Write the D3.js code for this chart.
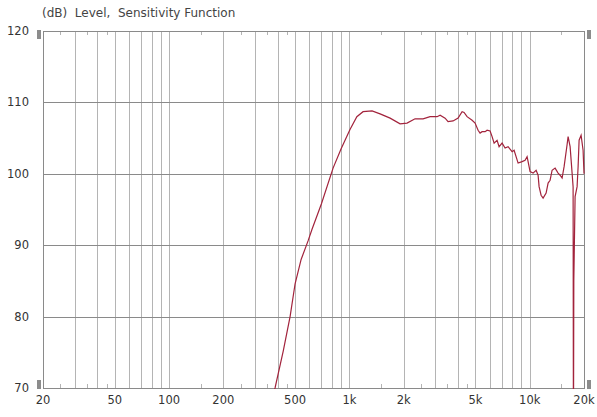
<!DOCTYPE html>
<html>
<head>
<meta charset="utf-8">
<title>Level, Sensitivity Function</title>
<style>
  body { margin: 0; background: #fff; }
  svg { display: block; }
</style>
</head>
<body>
<svg id="chart" width="597" height="417"></svg>
<script src="https://cdn.jsdelivr.net/npm/d3@7/dist/d3.min.js"></script>
<script>
var freq = [360, 387, 430, 469, 500, 540, 590, 620, 700, 812, 900, 1008, 1100, 1191, 1336,
  1480, 1682, 1910, 2088, 2313, 2563, 2802, 3064, 3184, 3394, 3526, 3758, 4008, 4218, 4326,
  4494, 4792, 4978, 5172, 5306, 5444, 5658, 5804, 6030, 6186, 6346, 6592, 6764, 7028, 7302,
  7586, 7986, 8192, 8622, 9072, 9426, 9670, 9796, 10046, 10440, 10850, 11130, 11272, 11564, 11864,
  12328, 12646, 12972, 13308, 13828, 14370, 14740, 15122, 15512, 16120, 16328, 16750, 17182, 17402, 17480,
  17560, 17852, 18314, 18550, 18788, 19272, 19770, 20000]
var level = [67.5, 70, 75.2, 80, 84.6, 88, 90.6, 92.2, 95.8, 100.8, 103.5, 106.2, 108, 108.7, 108.8,
  108.4, 107.8, 107.0, 107.1, 107.7, 107.7, 108.0, 108.0, 108.2, 107.8, 107.3, 107.4, 107.8, 108.7, 108.6,
  108.0, 107.5, 107.1, 106.1, 105.7, 105.9, 105.9, 106.1, 106.0, 105.2, 104.3, 104.7, 103.8, 104.3, 103.6,
  103.8, 103.1, 103.3, 101.5, 101.7, 101.9, 102.4, 101.7, 100.3, 100.1, 100.5, 99.8, 98.2, 97.0, 96.6,
  97.3, 98.7, 99.1, 100.5, 100.8, 100.1, 99.8, 99.4, 101.0, 104.1, 105.2, 103.8, 100.1, 98.2, 62,
  85, 96.8, 98.2, 101.0, 104.7, 105.4, 103.3, 100.0]

var xGrid = [30, 40, 50, 60, 70, 80, 90, 100, 200, 300, 400, 500, 600, 700, 800, 900,
  1000, 2000, 3000, 4000, 5000, 6000, 7000, 8000, 9000, 10000]
var xMinor = [25, 35, 45, 150, 250, 350, 450, 1500, 2500, 3500, 4500, 15000]
var xLabels = [20, 50, 100, 200, 500, 1000, 2000, 5000, 10000, 20000]
var yTicks = [70, 80, 90, 100, 110, 120]

var svg = d3.select('#chart')
// plot box (not "top": that name is taken by window.top)
var pL = 43, pR = 584, pT = 31, pB = 388

var x = d3.scaleLog().domain([20, 20000]).range([pL, pR])
var y = d3.scaleLinear().domain([70, 120]).range([pB, pT])

svg.append('text')
  .attr('x', 42).attr('y', 17)
  .style('font-family', 'DejaVu Sans, Verdana, sans-serif')
  .style('font-size', '12px')
  .style('fill', '#444')
  .attr('xml:space', 'preserve')
  .text('(dB)  Level,  Sensitivity Function')

// vertical grid
svg.selectAll('.vg').data(xGrid).enter().append('line')
  .attr('x1', function(d){ return Math.round(x(d)) + 0.5 })
  .attr('x2', function(d){ return Math.round(x(d)) + 0.5 })
  .attr('y1', pT).attr('y2', pB)
  .style('stroke', '#b4b4b4')

// horizontal grid
svg.selectAll('.hg').data([80, 90, 100, 110]).enter().append('line')
  .attr('x1', pL).attr('x2', pR)
  .attr('y1', function(d){ return Math.round(y(d)) + 0.5 })
  .attr('y2', function(d){ return Math.round(y(d)) + 0.5 })
  .style('stroke', '#8a8a8a')

// small ticks top and bottom
svg.selectAll('.mb').data(xMinor).enter().append('line')
  .attr('x1', function(d){ return Math.round(x(d)) + 0.5 })
  .attr('x2', function(d){ return Math.round(x(d)) + 0.5 })
  .attr('y1', pB - 4).attr('y2', pB)
  .style('stroke', '#b4b4b4')
svg.selectAll('.mt').data(xMinor).enter().append('line')
  .attr('x1', function(d){ return Math.round(x(d)) + 0.5 })
  .attr('x2', function(d){ return Math.round(x(d)) + 0.5 })
  .attr('y1', pT).attr('y2', pT + 4)
  .style('stroke', '#b4b4b4')

// frame
svg.append('rect')
  .attr('x', pL + 0.5).attr('y', pT + 0.5)
  .attr('width', pR - pL).attr('height', pB - pT)
  .style('fill', 'none').style('stroke', '#8a8a8a')

// corner markers
var marks = [[37, pT - 1], [37, pB - 8], [587, pB - 8], [587, pT - 1]]
svg.selectAll('.mk').data(marks).enter().append('rect')
  .attr('x', function(d){ return d[0] }).attr('y', function(d){ return d[1] })
  .attr('width', 4).attr('height', 9)
  .style('fill', '#8c8c8c')

// labels
svg.selectAll('.yl').data(yTicks).enter().append('text')
  .attr('x', 29).attr('y', function(d){ return y(d) + 4 })
  .attr('text-anchor', 'end')
  .style('font-family', 'DejaVu Sans, Verdana, sans-serif')
  .style('font-size', '11.5px').style('fill', '#333')
  .text(function(d){ return d })

svg.selectAll('.xl').data(xLabels).enter().append('text')
  .attr('x', function(d){ return x(d) })
  .attr('y', pB + 16)
  .attr('text-anchor', 'middle')
  .style('font-family', 'DejaVu Sans, Verdana, sans-serif')
  .style('font-size', '11.5px').style('fill', '#333')
  .text(function(d){ return d >= 1000 ? (d / 1000) + 'k' : d })

// curve
svg.append('clipPath').attr('id', 'clip').append('rect')
  .attr('x', pL).attr('y', pT).attr('width', pR - pL + 1).attr('height', pB - pT + 1)

var pts = freq.map(function(f, i){ return [f, level[i]] })
var line = d3.line()
  .x(function(d){ return x(d[0]) })
  .y(function(d){ return y(d[1]) })

svg.append('path')
  .datum(pts)
  .attr('clip-path', 'url(#clip)')
  .attr('d', line)
  .style('fill', 'none')
  .style('stroke', '#a2233c')
  .style('stroke-width', 1.2)
</script>
</body>
</html>
